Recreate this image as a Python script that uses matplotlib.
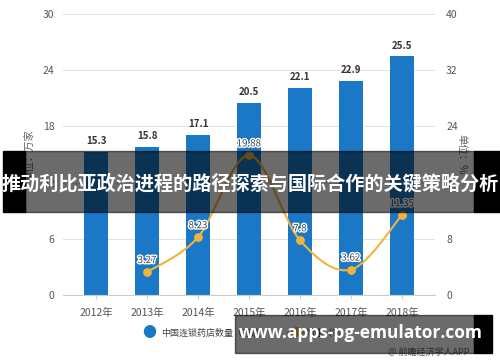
import numpy as np
import matplotlib
matplotlib.use('Agg')
import matplotlib.pyplot as plt
from matplotlib.path import Path
from matplotlib.patches import PathPatch, Rectangle
import matplotlib.patheffects as pe

plt.rcParams['font.family'] = ['Noto Sans CJK SC', 'DejaVu Sans']

## data
years = ['2012年', '2013年', '2014年', '2015年', '2016年', '2017年', '2018年']
stores = [15.3, 15.8, 17.1, 20.5, 22.1, 22.9, 25.5]
growth_years = [1, 2, 3, 4, 5, 6]
growth = [3.27, 8.23, 19.88, 7.8, 3.62, 11.35]

bar_color = '#1a78c6'
line_color = '#f0b43c'
grid_color = '#e2e2e2'
tick_color = '#555555'

fig = plt.figure(figsize=(5, 3.62), dpi=100)
ax = fig.add_axes([0.126, 0.185, 0.744, 0.776])
ax2 = ax.twinx()

x = np.arange(len(years))
ax.bar(x, stores, width=0.47, color=bar_color, zorder=2)
for xi, v in zip(x, stores):
    ax.text(xi, v + 0.6, str(v), ha='center', va='bottom', fontsize=7,
            fontweight='bold', color='#333333', zorder=5)

ax.set_xlim(-0.65, 6.65)
ax.set_ylim(0, 30)
ax.set_yticks([0, 6, 12, 18, 24, 30])
ax.set_xticks(x)
ax.set_xticklabels(years)
ax.grid(axis='y', color=grid_color, lw=0.8, zorder=0)
ax.set_axisbelow(True)
for s in ['top', 'right', 'left']:
    ax.spines[s].set_visible(False)
ax.spines['bottom'].set_color('#cccccc')
ax.tick_params(axis='both', length=0, labelsize=7.5, colors=tick_color, pad=6)
ax.tick_params(axis='x', length=3, color='#cccccc')
ax.set_ylabel('单位：万家', fontsize=7.5, color='#666666', labelpad=6)

ax2.set_ylim(0, 40)
ax2.set_yticks([0, 8, 16, 24, 32, 40])
for s in ax2.spines.values():
    s.set_visible(False)
ax2.tick_params(axis='y', length=0, labelsize=7.5, colors=tick_color, pad=8)
ax2.set_ylabel('单位：%', fontsize=7.5, color='#666666', rotation=270, labelpad=6)

# smooth line through growth points (catmull-rom -> bezier)
px = np.array(growth_years, dtype=float)
py = np.array(growth, dtype=float)
verts = [(px[0], py[0])]
codes = [Path.MOVETO]
n = len(px)
for i in range(n - 1):
    p0 = np.array([px[max(i - 1, 0)], py[max(i - 1, 0)]])
    p1 = np.array([px[i], py[i]])
    p2 = np.array([px[i + 1], py[i + 1]])
    p3 = np.array([px[min(i + 2, n - 1)], py[min(i + 2, n - 1)]])
    c1 = p1 + (p2 - p0) / 6.0
    c2 = p2 - (p3 - p1) / 6.0
    verts += [tuple(c1), tuple(c2), tuple(p2)]
    codes += [Path.CURVE4] * 3
ax2.add_patch(PathPatch(Path(verts, codes), fill=False, edgecolor=line_color,
                        lw=1.5, zorder=3))
ax2.scatter(px, py, s=28, color=line_color, zorder=4)
for xi, v in zip(px, py):
    ax2.text(xi, v + 1.0, f'{v:g}', ha='center', va='bottom', fontsize=7,
             color='#444444', zorder=5,
             path_effects=[pe.withStroke(linewidth=2, foreground='white')])

# legend
fig.text(0.298, 1 - 333 / 362, '●', fontsize=10, color=bar_color, ha='center', va='center')
fig.text(0.322, 1 - 333 / 362, '中国连锁药店数量（万家）', fontsize=6.5, color='#444444',
         ha='left', va='center')
fig.lines.append(plt.Line2D([0.575, 0.608], [1 - 333 / 362] * 2, transform=fig.transFigure,
                            color=line_color, lw=1.5))
fig.text(0.592, 1 - 333 / 362, '●', fontsize=8, color=line_color, ha='center', va='center')
fig.text(0.612, 1 - 333 / 362, '增速（%）', fontsize=6.5, color='#444444',
         ha='left', va='center')
fig.text(0.94, 1 - 352 / 362, '@ 前瞻经济学人APP', fontsize=6.5, color='#666666',
         ha='right', va='center')

# title banner overlay
fig.patches.append(Rectangle((3 / 500, 1 - 212 / 362), 22 / 500, 61 / 362,
                             transform=fig.transFigure, color='black', zorder=10))
fig.patches.append(Rectangle((25 / 500, 1 - 212 / 362), 449 / 500, 61 / 362,
                             transform=fig.transFigure, color='black', alpha=0.58, zorder=10))
fig.patches.append(Rectangle((474 / 500, 1 - 212 / 362), 26 / 500, 61 / 362,
                             transform=fig.transFigure, color='black', zorder=10))
fig.text(0.5, 1 - 184 / 362, '推动利比亚政治进程的路径探索与国际合作的关键策略分析',
         fontsize=13.8, fontweight='bold', color='white', ha='center', va='center', zorder=11)

# url banner overlay
fig.patches.append(Rectangle((235 / 500, 1 - 353 / 362), 239 / 500, 38 / 362,
                             transform=fig.transFigure, color='black', alpha=0.58, zorder=10))
fig.patches.append(Rectangle((474 / 500, 1 - 353 / 362), 18 / 500, 38 / 362,
                             transform=fig.transFigure, color='black', zorder=10))
fig.text(0.722, 1 - 333 / 362, 'www.apps-pg-emulator.com', fontsize=12.5,
         fontweight='bold', color='white', ha='center', va='center', zorder=11,
         family=['Open Sans', 'DejaVu Sans'])

fig.savefig('out.png', dpi=100)
